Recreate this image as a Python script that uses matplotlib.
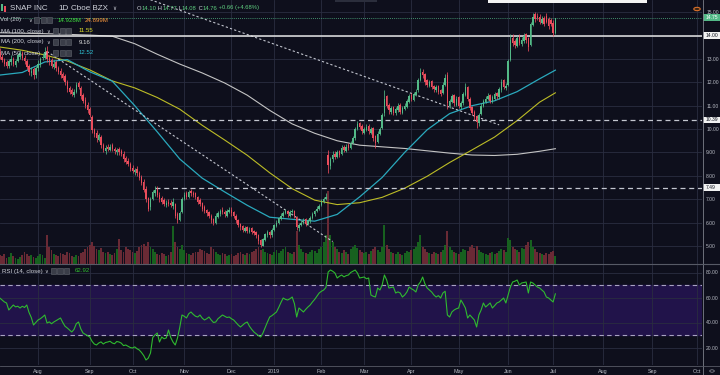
import numpy as np
import pandas as pd
import matplotlib
matplotlib.use("Agg")
import matplotlib.pyplot as plt
from matplotlib.patches import Rectangle, Circle
from matplotlib.lines import Line2D
from matplotlib.ticker import FormatStrFormatter

plt.rcParams["font.family"] = ["Liberation Sans", "DejaVu Sans"]

# --- SNAP daily bars, first bar 2018-07-09, last 2019-07-02 ---
OPEN = [13.30, 13.10, 12.95, 12.85, 12.70, 12.85, 13.00, 12.75, 12.90, 13.10,
        13.25, 13.05, 12.90, 12.70, 12.40, 12.55, 12.30, 12.60, 12.75, 13.05,
        13.05, 13.35, 13.05, 12.95, 12.65, 12.85, 12.60, 12.50, 12.35, 12.25,
        12.00, 11.75, 11.65, 11.45, 11.60, 11.95, 11.75, 11.45, 11.25, 11.05,
        10.85, 10.50, 9.95, 9.85, 9.55, 9.65, 9.30, 9.05, 9.25, 9.10,
        9.30, 9.15, 9.00, 9.15, 9.05, 8.95, 8.75, 8.65, 8.50, 8.35,
        8.15, 8.30, 8.10, 7.95, 7.75, 7.45, 7.05, 6.65, 7.00, 7.25,
        7.45, 7.20, 7.05, 6.95, 6.75, 6.90, 6.85, 6.70, 6.80, 6.35,
        6.10, 6.45, 7.00, 7.25, 7.10, 7.35, 7.25, 7.25, 7.10, 6.95,
        6.85, 6.65, 6.55, 6.45, 6.30, 6.15, 6.00, 6.25, 6.35, 6.55,
        6.45, 6.30, 6.45, 6.55, 6.45, 6.30, 6.10, 5.95, 5.85, 5.65,
        5.80, 5.60, 5.75, 5.65, 5.60, 5.45, 5.25, 5.00, 5.25, 5.45,
        5.60, 5.45, 5.70, 5.85, 6.00, 6.15, 6.30, 6.40, 6.50, 6.30,
        6.45, 6.50, 6.25, 5.75, 5.90, 6.00, 6.15, 5.95, 6.05, 6.20,
        6.35, 6.50, 6.60, 6.75, 6.90, 7.00, 8.90, 8.40, 8.70, 8.95,
        8.80, 9.05, 8.95, 9.25, 9.05, 9.30, 9.20, 9.40, 9.60, 10.00,
        10.25, 10.15, 9.85, 9.95, 10.15, 9.85, 10.05, 9.70, 9.45, 9.80,
        10.05, 10.70, 11.40, 11.05, 10.75, 10.95, 10.70, 10.80, 11.05, 10.70,
        10.85, 10.95, 11.15, 11.45, 11.25, 11.45, 11.65, 12.10, 12.45, 12.35,
        12.10, 11.85, 12.05, 11.85, 11.65, 11.85, 11.65, 11.55, 11.90, 12.30,
        11.00, 11.15, 11.45, 11.05, 11.35, 10.95, 11.10, 11.45, 11.80, 11.30,
        10.95, 10.75, 10.55, 10.25, 10.65, 11.00, 11.15, 11.30, 11.45, 11.15,
        11.30, 11.55, 11.35, 11.65, 12.10, 11.75, 11.90, 12.95, 13.90, 13.75,
        13.55, 13.95, 13.65, 13.75, 14.05, 13.90, 13.60, 14.45, 14.90, 14.85,
        14.80, 14.55, 14.75, 14.85, 14.70, 14.65, 14.55, 14.10]
HIGH = [13.45, 13.20, 13.05, 12.95, 13.00, 13.15, 13.10, 13.00, 13.25, 13.40,
        13.35, 13.15, 13.00, 12.80, 12.65, 12.65, 12.70, 12.95, 13.10, 13.25,
        13.50, 13.55, 13.15, 13.05, 12.95, 12.95, 12.70, 12.60, 12.45, 12.35,
        12.10, 11.85, 11.75, 11.70, 12.00, 12.05, 11.85, 11.55, 11.35, 11.15,
        10.95, 10.60, 10.05, 9.95, 9.85, 9.75, 9.40, 9.30, 9.35, 9.35,
        9.40, 9.25, 9.20, 9.25, 9.15, 9.05, 8.85, 8.75, 8.60, 8.45,
        8.35, 8.40, 8.20, 8.05, 7.85, 7.55, 7.10, 7.10, 7.40, 7.55,
        7.55, 7.30, 7.15, 7.05, 6.95, 7.00, 6.95, 7.05, 6.85, 6.45,
        6.50, 7.10, 7.30, 7.35, 7.40, 7.45, 7.35, 7.30, 7.15, 7.05,
        6.90, 6.75, 6.60, 6.50, 6.35, 6.20, 6.40, 6.50, 6.60, 6.65,
        6.55, 6.60, 6.65, 6.65, 6.50, 6.35, 6.15, 6.00, 5.90, 5.85,
        5.85, 5.80, 5.80, 5.70, 5.65, 5.50, 5.30, 5.35, 5.55, 5.70,
        5.65, 5.75, 5.95, 6.10, 6.25, 6.40, 6.50, 6.60, 6.55, 6.55,
        6.60, 6.55, 6.30, 6.00, 6.10, 6.20, 6.20, 6.15, 6.30, 6.45,
        6.55, 6.70, 6.80, 7.00, 7.10, 7.25, 9.10, 8.80, 9.05, 9.05,
        9.10, 9.10, 9.30, 9.30, 9.35, 9.40, 9.50, 9.70, 10.10, 10.35,
        10.30, 10.20, 10.10, 10.20, 10.20, 10.10, 10.10, 9.75, 9.90, 10.10,
        10.70, 11.65, 11.45, 11.10, 11.00, 11.00, 10.95, 11.10, 11.10, 11.00,
        11.10, 11.30, 11.50, 11.55, 11.60, 11.70, 12.20, 12.60, 12.55, 12.40,
        12.15, 12.10, 12.10, 11.90, 11.90, 11.90, 11.70, 12.00, 12.35, 12.45,
        11.30, 11.50, 11.50, 11.40, 11.40, 11.20, 11.60, 11.95, 11.85, 11.35,
        11.00, 10.80, 10.60, 10.70, 11.10, 11.30, 11.40, 11.55, 11.50, 11.45,
        11.60, 11.60, 11.80, 12.15, 12.15, 11.95, 13.00, 14.05, 14.05, 13.85,
        14.00, 14.05, 13.95, 14.10, 14.10, 13.95, 14.60, 14.95, 15.00, 14.95,
        14.90, 14.85, 14.85, 14.95, 14.80, 14.75, 14.65, 14.77]
LOW = [13.00, 12.85, 12.70, 12.60, 12.60, 12.75, 12.70, 12.65, 12.85, 13.00,
       12.95, 12.80, 12.55, 12.30, 12.25, 12.15, 12.20, 12.50, 12.65, 12.95,
       13.00, 12.85, 12.75, 12.60, 12.55, 12.50, 12.35, 12.20, 12.10, 11.90,
       11.60, 11.50, 11.40, 11.35, 11.55, 11.70, 11.30, 11.10, 10.90, 10.70,
       10.50, 9.85, 9.65, 9.45, 9.50, 9.20, 9.00, 8.95, 9.05, 9.05,
       9.05, 8.95, 8.90, 8.90, 8.85, 8.60, 8.50, 8.40, 8.20, 8.10,
       8.05, 8.00, 7.80, 7.60, 7.30, 6.90, 6.50, 6.55, 6.95, 7.15,
       7.10, 6.90, 6.80, 6.70, 6.65, 6.70, 6.65, 6.60, 6.20, 6.00,
       6.05, 6.40, 6.95, 7.00, 7.05, 7.15, 7.10, 7.00, 6.80, 6.70,
       6.50, 6.40, 6.30, 6.20, 6.00, 5.90, 5.95, 6.20, 6.30, 6.35,
       6.25, 6.25, 6.40, 6.30, 6.20, 6.00, 5.80, 5.70, 5.60, 5.60,
       5.55, 5.55, 5.50, 5.45, 5.35, 5.10, 4.97, 4.98, 5.20, 5.40,
       5.35, 5.40, 5.65, 5.80, 5.95, 6.10, 6.25, 6.35, 6.25, 6.25,
       6.40, 6.20, 5.70, 5.65, 5.85, 5.95, 5.85, 5.90, 6.00, 6.15,
       6.30, 6.45, 6.55, 6.70, 6.85, 6.95, 8.10, 8.30, 8.60, 8.70,
       8.75, 8.80, 8.90, 9.00, 9.00, 9.10, 9.15, 9.35, 9.55, 9.95,
       10.00, 9.80, 9.80, 9.90, 9.80, 9.80, 9.50, 9.20, 9.40, 9.75,
       10.00, 10.55, 10.90, 10.65, 10.65, 10.60, 10.60, 10.75, 10.65, 10.65,
       10.80, 10.90, 11.10, 11.20, 11.20, 11.40, 11.60, 12.05, 12.20, 11.90,
       11.80, 11.80, 11.70, 11.60, 11.60, 11.50, 11.40, 11.50, 11.85, 10.85,
       10.90, 11.10, 11.00, 11.00, 10.90, 10.85, 11.05, 11.40, 11.20, 10.80,
       10.60, 10.40, 10.05, 10.15, 10.60, 10.95, 11.10, 11.25, 11.10, 11.10,
       11.25, 11.30, 11.30, 11.60, 11.70, 11.65, 11.85, 12.90, 13.55, 13.45,
       13.50, 13.60, 13.55, 13.70, 13.70, 13.35, 13.55, 14.40, 14.60, 14.65,
       14.50, 14.50, 14.40, 14.55, 14.30, 14.40, 14.00, 14.08]
CLOSE = [13.10, 12.95, 12.80, 12.70, 12.90, 13.00, 12.80, 12.90, 13.15, 13.25,
         13.05, 12.90, 12.65, 12.45, 12.50, 12.30, 12.60, 12.80, 13.00, 13.10,
         13.30, 13.00, 12.90, 12.70, 12.80, 12.60, 12.45, 12.30, 12.20, 12.00,
         11.70, 11.60, 11.50, 11.60, 11.90, 11.80, 11.40, 11.20, 11.00, 10.80,
         10.60, 9.95, 9.80, 9.60, 9.75, 9.30, 9.10, 9.20, 9.15, 9.25,
         9.15, 9.05, 9.10, 9.00, 8.95, 8.70, 8.60, 8.50, 8.30, 8.20,
         8.25, 8.10, 7.90, 7.70, 7.40, 7.00, 6.60, 7.00, 7.30, 7.40,
         7.20, 7.00, 6.90, 6.80, 6.85, 6.80, 6.75, 6.90, 6.30, 6.10,
         6.40, 7.00, 7.20, 7.10, 7.30, 7.25, 7.20, 7.10, 6.90, 6.80,
         6.60, 6.50, 6.40, 6.30, 6.10, 6.00, 6.30, 6.40, 6.50, 6.45,
         6.35, 6.50, 6.55, 6.40, 6.30, 6.10, 5.90, 5.80, 5.70, 5.75,
         5.65, 5.70, 5.60, 5.55, 5.45, 5.20, 5.05, 5.30, 5.50, 5.60,
         5.45, 5.70, 5.90, 6.00, 6.20, 6.30, 6.40, 6.50, 6.35, 6.45,
         6.50, 6.30, 5.80, 5.90, 6.00, 6.10, 5.95, 6.05, 6.20, 6.35,
         6.50, 6.60, 6.70, 6.90, 7.00, 7.10, 8.45, 8.70, 8.90, 8.80,
         9.00, 8.90, 9.20, 9.10, 9.25, 9.20, 9.40, 9.60, 10.00, 10.20,
         10.10, 9.90, 10.00, 10.10, 9.90, 10.00, 9.60, 9.40, 9.80, 10.00,
         10.60, 11.30, 11.00, 10.80, 10.90, 10.70, 10.85, 11.00, 10.75, 10.90,
         11.00, 11.20, 11.40, 11.30, 11.50, 11.60, 12.10, 12.40, 12.30, 12.00,
         11.90, 12.00, 11.80, 11.70, 11.80, 11.60, 11.50, 11.90, 12.20, 11.10,
         11.20, 11.40, 11.10, 11.30, 11.00, 11.10, 11.50, 11.80, 11.30, 10.90,
         10.70, 10.50, 10.30, 10.60, 11.00, 11.20, 11.30, 11.40, 11.20, 11.35,
         11.50, 11.40, 11.70, 12.00, 11.80, 11.85, 12.90, 13.80, 13.70, 13.60,
         13.90, 13.70, 13.80, 14.00, 13.80, 13.50, 14.50, 14.80, 14.70, 14.75,
         14.60, 14.70, 14.50, 14.60, 14.40, 14.50, 14.10, 14.76]
VOLUME = [18, 15, 20, 12, 14, 22, 16, 12, 10, 14,
          18, 25, 20, 16, 19, 14, 12, 15, 20, 18,
          12, 60, 35, 28, 20, 18, 16, 22, 20, 18,
          25, 22, 15, 14, 18, 16, 22, 25, 30, 35,
          40, 45, 38, 30, 28, 32, 25, 22, 24, 20,
          18, 22, 30, 52, 28, 24, 35, 30, 28, 25,
          22, 26, 35, 40, 42, 38, 45, 35, 30, 25,
          20, 18, 22, 20, 16, 18, 25, 80, 45, 35,
          30, 40, 28, 22, 20, 18, 22, 25, 24, 30,
          28, 26, 22, 20, 35, 30, 24, 20, 18, 22,
          20, 16, 18, 20, 15, 18, 22, 25, 20, 18,
          22, 20, 24, 26, 30, 35, 28, 30, 25, 22,
          20, 18, 24, 28, 22, 26, 30, 35, 25, 22,
          20, 24, 70, 40, 30, 25, 22, 20, 24, 28,
          26, 22, 30, 35, 45, 60, 155, 60, 45, 35,
          30, 25, 22, 28, 24, 20, 30, 35, 40, 32,
          28, 25, 22, 24, 20, 26, 30, 35, 28, 24,
          35, 82, 40, 30, 25, 22, 20, 24, 20, 18,
          22, 26, 24, 28, 30, 35, 45, 60, 35, 30,
          25, 22, 20, 24, 22, 20, 25, 28, 40, 70,
          35, 28, 25, 22, 20, 24, 30, 28, 26, 35,
          40, 32, 38, 28, 25, 22, 20, 18, 22, 24,
          20, 22, 26, 30, 28, 25, 55, 50, 35, 30,
          28, 25, 32, 30, 40, 45, 50, 35, 30, 25,
          22, 20, 18, 22, 20, 24, 26, 15]  # millions
RSI14 = [59.6, 58.0, 56.5, 55.6, 50.0, 52.0, 54.0, 52.5, 53.0, 51.6,
         53.0, 52.0, 54.0, 48.0, 44.0, 38.0, 40.0, 42.0, 43.0, 44.4,
         46.0, 39.6, 40.5, 39.0, 40.4, 41.5, 42.5, 43.6, 40.0, 37.0,
         35.6, 34.0, 32.4, 34.5, 39.0, 40.4, 35.0, 31.6, 30.5, 29.5,
         28.4, 25.0, 22.8, 22.0, 23.6, 24.5, 22.8, 24.0, 24.4, 25.0,
         23.6, 23.0, 24.8, 24.4, 23.5, 21.5, 22.0, 21.0, 20.0, 19.6,
         20.5, 19.0, 18.0, 16.0, 13.5, 10.0, 11.5, 15.6, 28.0, 30.0,
         31.6, 24.4, 28.4, 27.0, 27.6, 34.0, 28.0, 24.4, 22.0, 27.6,
         36.0, 46.0, 45.0, 43.6, 47.0, 48.4, 46.5, 45.0, 44.4, 46.0,
         43.5, 42.0, 43.0, 44.4, 42.0, 40.0, 40.4, 43.0, 44.5, 46.0,
         45.0, 44.0, 44.4, 43.0, 42.0, 40.0, 38.0, 36.4, 38.0, 39.5,
         40.4, 37.0, 34.5, 32.4, 31.0, 29.5, 28.4, 31.6, 36.0, 40.4,
         44.4, 45.5, 47.0, 48.4, 52.0, 56.0, 59.6, 58.5, 58.0, 59.0,
         60.4, 55.0, 44.4, 51.6, 50.0, 48.4, 50.5, 52.4, 54.0, 56.4,
         58.5, 61.0, 63.6, 65.0, 66.0, 68.0, 80.4, 82.0, 81.0, 79.6,
         75.6, 77.0, 78.0, 76.5, 77.5, 78.0, 80.0, 81.0, 82.0, 79.6,
         75.6, 76.0, 76.4, 75.0, 75.6, 62.0, 61.0, 60.4, 67.6, 66.0,
         70.0, 78.0, 74.0, 67.6, 68.0, 68.4, 63.6, 64.5, 63.6, 60.4,
         62.0, 64.4, 68.4, 67.0, 66.0, 64.4, 70.0, 72.4, 76.4, 71.0,
         67.6, 66.0, 64.4, 62.0, 60.4, 61.5, 59.6, 63.6, 65.0, 46.0,
         44.4, 48.4, 50.0, 51.0, 51.6, 58.0, 55.0, 51.6, 43.6, 46.0,
         44.0, 42.0, 36.4, 46.0, 50.0, 55.6, 52.4, 54.0, 55.6, 51.6,
         53.5, 55.6, 56.4, 58.0, 59.6, 55.6, 62.0, 68.4, 72.4, 73.0,
         74.0, 70.0, 71.6, 72.0, 72.4, 63.6, 72.4, 71.6, 70.0, 68.4,
         67.6, 66.0, 64.4, 60.4, 59.6, 58.0, 56.4, 62.92]

# moving averages, sampled along the drawn lines
MA_DATES = ["2018-07-09", "2018-07-23", "2018-08-06", "2018-08-20", "2018-09-04",
            "2018-09-18", "2018-10-02", "2018-10-16", "2018-10-30", "2018-11-13",
            "2018-11-28", "2018-12-13", "2018-12-28", "2019-01-14", "2019-01-29",
            "2019-02-12", "2019-02-27", "2019-03-13", "2019-03-27", "2019-04-10",
            "2019-04-25", "2019-05-09", "2019-05-23", "2019-06-07", "2019-06-21",
            "2019-07-02"]
MA50 = [12.31, 12.42, 12.87, 12.97, 12.45, 12.05, 11.00, 9.88, 8.72, 7.90,
        7.31, 6.74, 6.23, 6.14, 6.06, 6.35, 7.10, 7.93, 9.00, 9.97,
        10.66, 11.00, 11.21, 11.60, 12.15, 12.52]
MA100 = [13.51, 13.37, 13.17, 12.91, 12.53, 12.06, 11.76, 11.35, 10.85, 10.16,
         9.53, 8.88, 8.13, 7.45, 6.96, 6.77, 6.85, 7.08, 7.47, 7.98,
         8.57, 9.11, 9.66, 10.36, 11.15, 11.55]
MA200 = [14.12, 14.10, 14.08, 14.05, 14.02, 13.97, 13.65, 13.20, 12.78, 12.40,
         11.97, 11.45, 10.80, 10.22, 9.82, 9.50, 9.31, 9.24, 9.17, 9.07,
         8.97, 8.89, 8.87, 8.92, 9.05, 9.16]

# user drawings
TRENDLINES = [(("2018-10-11", 15.53), ("2019-05-28", 10.18)),
              (("2018-08-07", 13.32), ("2019-02-08", 5.19))]
LEVEL_SOLID = 14.00
LEVEL_DASHED = 10.39
RAY = ("2018-10-15", 7.49)
LAST_PRICE = 14.76

HOLIDAYS = ["2018-09-03", "2018-11-22", "2018-12-05", "2018-12-25", "2019-01-01",
            "2019-01-21", "2019-02-18", "2019-04-19", "2019-05-27", "2019-07-04",
            "2019-09-02"]
days = pd.date_range("2018-07-09", "2019-10-31",
                     freq=pd.offsets.CustomBusinessDay(holidays=HOLIDAYS))


def bar_of(d):
    return days.get_loc(pd.Timestamp(d))


# colours
BG = "#0e0f1c"
GRID = "#2a2d40"
TXT = "#b8bbc4"
UP, DOWN = "#53b987", "#eb4d5c"
VUP, VDN = "#17611f", "#6a2a35"
TEAL, YELLOW, GREY = "#2aa9bd", "#bcbc26", "#c4c4c4"
RSI_C = "#2fba2f"
AX_FS = 3.6

W, H = 720, 375
PR = 702  # right edge of the panes, px
fig = plt.figure(figsize=(W / 100, H / 100), dpi=100, facecolor=BG)
ax = fig.add_axes([0, 1 - 263.5 / H, PR / W, 263.5 / H], facecolor=BG)
axr = fig.add_axes([0, 1 - 365 / H, PR / W, (365 - 264.5) / H], facecolor=BG)
axt = fig.add_axes([0, 0, PR / W, 10 / H])
axt.axis("off")

XL = (0.09, 312.2)
for a in (ax, axr, axt):
    a.set_xlim(XL)
for a in (ax, axr):
    for s in a.spines.values():
        s.set_visible(False)
    a.tick_params(axis="x", bottom=False, labelbottom=False)
    a.yaxis.tick_right()
    a.tick_params(axis="y", length=0, pad=3, labelsize=AX_FS, labelcolor=TXT)
    a.yaxis.set_major_formatter(FormatStrFormatter("%.2f"))
ax.set_ylim(4.25, 15.52)
ax.set_yticks(range(5, 16))
axr.set_ylim(6.0, 86.4)
axr.set_yticks([20, 40, 60, 80])
axt.set_ylim(0, 1)

# month grid + labels
for i in range(1, len(days)):
    if days[i].month != days[i - 1].month:
        for a in (ax, axr):
            a.axvline(i, color=GRID, lw=0.6, zorder=0.5)
        lab = "2019" if (days[i].month == 1) else days[i].strftime("%b")
        axt.text(i, 0.32, lab, color=TXT, fontsize=3.9, ha="center", va="center",
                 clip_on=True)
for p in range(5, 16):
    ax.axhline(p, color=GRID, lw=0.6, zorder=0.5)
for r in (20, 40, 60, 80):
    axr.axhline(r, color=GRID, lw=0.6, zorder=0.5)

# candles + volume
x = np.arange(len(CLOSE))
o, h, l, c = (np.array(v) for v in (OPEN, HIGH, LOW, CLOSE))
up = c >= o
VOL_TOP = 560.0
for xi, v, u in zip(x, VOLUME, up):
    ax.add_patch(Rectangle((xi - 0.42, 0), 0.84, v / VOL_TOP, transform=ax.get_xaxis_transform(),
                           fc=VUP if u else VDN, ec="none", zorder=1))
col = np.where(up, UP, DOWN)
ax.vlines(x, l, h, colors=col, lw=0.55, zorder=4)
ax.bar(x, np.maximum(np.abs(c - o), 0.03), bottom=np.minimum(o, c), width=0.64,
       color=col, linewidth=0, zorder=5)

# moving averages
mx = [bar_of(d) for d in MA_DATES]
ax.plot(mx, MA200, color=GREY, lw=0.8, zorder=2)
ax.plot(mx, MA100, color=YELLOW, lw=0.8, zorder=2)
ax.plot(mx, MA50, color=TEAL, lw=0.9, zorder=2)

# drawings
for (d0, p0), (d1, p1) in TRENDLINES:
    ax.plot([bar_of(d0), bar_of(d1)], [p0, p1], color="#c3c6cf", lw=0.8,
            ls=(0, (2, 2)), zorder=3)
ax.axhline(LEVEL_SOLID, color="#e6e6e6", lw=1.1, zorder=3)
ax.axhline(LEVEL_DASHED, color="#c3c6cf", lw=0.9, ls=(0, (4, 3)), zorder=3)
ax.plot([bar_of(RAY[0]), XL[1]], [RAY[1], RAY[1]], color="#c3c6cf", lw=0.9,
        ls=(0, (4, 3)), zorder=3)
ax.axhline(LAST_PRICE, color=UP, lw=0.6, ls=(0, (1, 1.5)), zorder=3)

# RSI pane
axr.axhspan(30, 70, color="#21134a", zorder=0.2)
axr.axhline(70, color="#a9a3c2", lw=0.8, ls=(0, (4, 3)), zorder=1)
axr.axhline(30, color="#a9a3c2", lw=0.8, ls=(0, (4, 3)), zorder=1)
axr.plot(x, RSI14, color=RSI_C, lw=0.8, zorder=3)


# ---- figure-level decorations (pixel coords) ----
def ftext(xp, yp, s, color, size, **kw):
    return fig.text(xp / W, 1 - yp / H, s, color=color, fontsize=size, va="center", **kw)


def fbox(x0, y0, x1, y1, fc, ec="none", lw=0.0):
    fig.add_artist(Rectangle((x0 / W, 1 - y1 / H), (x1 - x0) / W, (y1 - y0) / H,
                             transform=fig.transFigure, fc=fc, ec=ec, lw=lw))


def fline(x0, y0, x1, y1, color, lw):
    fig.add_artist(Line2D([x0 / W, x1 / W], [1 - y0 / H, 1 - y1 / H],
                          transform=fig.transFigure, color=color, lw=lw))


def icons(x0, yc):
    for k in range(3):
        fbox(x0 + k * 6.5, yc - 2.6, x0 + k * 6.5 + 5.3, yc + 2.6, "#3a3d48", "#62656f", 0.4)


def py(a, v):
    return H - a.transData.transform((0, v))[1]


def tag(a, v, s, fc, tc):
    yp = py(a, v)
    fbox(703, yp - 3.3, 720, yp + 3.3, fc)
    ftext(706, yp, s, tc, AX_FS)


fline(702.5, 0, 702.5, 375, "#7d808a", 0.6)
fline(0, 264, 720, 264, "#575a66", 0.8)
fline(0, 365.5, 720, 365.5, "#575a66", 0.6)

tag(ax, LAST_PRICE, "14.75", UP, "white")
tag(ax, LEVEL_SOLID, "14.00", "#f2f2f2", "#131722")
tag(ax, LEVEL_DASHED, "10.39", "#f2f2f2", "#131722")
tag(ax, RAY[1], "7.49", "#f2f2f2", "#131722")

renderer = fig.canvas.get_renderer()


def run(xp, yp, parts, size):
    for s, cc in parts:
        t = ftext(xp, yp, s, cc, size)
        xp += t.get_window_extent(renderer).width


LEG = "#d1d4dc"
fbox(1, 4, 3, 11, UP)
fbox(4, 6, 6, 12, DOWN)
ftext(10, 8, "SNAP INC", LEG, 5.8)
ftext(58, 8, "1D", LEG, 5.8)
ftext(71, 8, "Cboe BZX", LEG, 5.8)
ftext(112, 8.5, "∨", LEG, 4)
OHLC_G = "#5fcf80"
run(137, 8, [("O", LEG), ("14.10", OHLC_G), (" H", LEG), ("14.77", OHLC_G),
             (" L", LEG), ("14.08", OHLC_G), (" C", LEG), ("14.76", OHLC_G),
             (" +0.66 (+4.68%)", OHLC_G)], 4.2)

ftext(0, 20, "Vol (20)", LEG, 4.4)
ftext(28, 20.5, "∨", LEG, 3.6)
icons(34, 20)
ftext(58, 20, "14.928M", "#3ee03e", 4.4)
ftext(85, 20, "24.899M", "#ff9a3c", 4.4)

for yp, name, val, vc in [(31, "MA (100, close)", "11.55", "#dcdc2a"),
                          (42, "MA (200, close)", "9.16", "#e0e0e0"),
                          (53, "MA (50, close)", "12.52", "#2ec4d6")]:
    ftext(1, yp, name, LEG, 4.4)
    ftext(46 if "50," not in name else 43, yp + 0.5, "∨", LEG, 3.6)
    icons(53, yp)
    ftext(79, yp, val, vc, 4.4)

ftext(2, 271, "RSI (14, close)", LEG, 4.4)
ftext(44, 271.5, "∨", LEG, 3.6)
icons(51, 271)
ftext(75, 271, "62.92", RSI_C, 4.4)

# top toolbar remnants and icons
fbox(488, 0, 647, 2.5, "#f4f4f4")
fbox(335, 0, 377, 2, "#2b2e3c")
fig.add_artist(Circle((697 / W, 1 - 9 / H), 3.2 / W, transform=fig.transFigure,
                      fc="#3a2414", ec="#d8702a", lw=0.8))
fig.add_artist(Circle((712 / W, 1 - 371 / H), 2.3 / W, transform=fig.transFigure,
                      fc="none", ec="#9598a1", lw=0.5))

fig.savefig("out.png", dpi=100, facecolor=BG)
